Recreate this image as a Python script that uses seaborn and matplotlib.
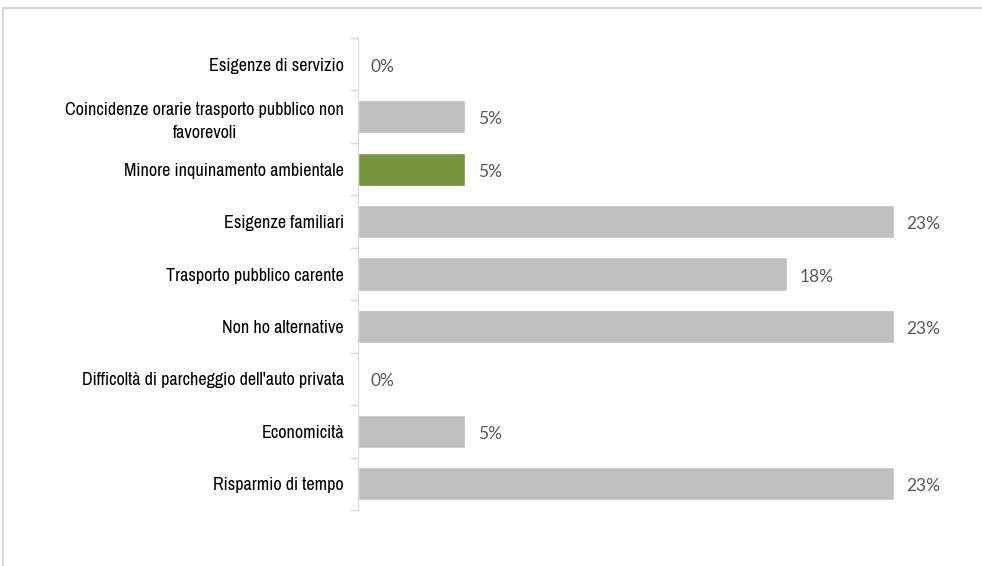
import matplotlib
matplotlib.use("Agg")
import matplotlib.pyplot as plt
import matplotlib.patches as mpatches
from matplotlib import font_manager
import seaborn as sns
import pandas as pd
import numpy as np

categories = [
    "Esigenze di servizio",
    "Coincidenze orarie trasporto pubblico non\nfavorevoli",
    "Minore inquinamento ambientale",
    "Esigenze familiari",
    "Trasporto pubblico carente",
    "Non ho alternative",
    "Difficoltà di parcheggio dell'auto privata",
    "Economicità",
    "Risparmio di tempo",
]
counts = [0, 1, 1, 5, 4, 5, 0, 1, 5]
total = 22
highlight = "Minore inquinamento ambientale"

shares = [100 * c / total for c in counts]
value_labels = [f"{round(s):.0f}%" for s in shares]

df = pd.DataFrame({"categoria": categories, "quota": shares})
palette = {c: ("#77933c" if c == highlight else "#bfbfbf") for c in categories}

sns.set_style("white")

# pick the narrowest sans family that is installed
fonts = font_manager.fontManager.ttflist
label_family, label_stretch = "Liberation Sans", "normal"
narrow = [f.name for f in fonts if "Narrow" in f.name or "Condensed" in f.name]
cond = [f.name for f in fonts if str(f.stretch) in ("condensed", "semi-condensed", "extra-condensed")]
if narrow:
    label_family = narrow[0]
elif cond:
    label_family, label_stretch = cond[0], "condensed"
names = {f.name for f in fonts}
value_font = "Lato" if "Lato" in names else "DejaVu Sans"

fig = plt.figure(figsize=(9.82, 5.66), dpi=100)
ax = fig.add_axes([358 / 982, 1 - 510 / 566, 589.5 / 982, 472 / 566])

# size the labels so the longest one spans about 262 px, as in the reference
renderer = fig.canvas.get_renderer()
probe = fig.text(0, 0, "Difficoltà di parcheggio dell'auto privata", fontsize=12,
                 family=label_family, fontstretch=label_stretch)
w = probe.get_window_extent(renderer).width
probe.remove()
label_size = min(14, 12 * 262 / w)

sns.barplot(data=df, x="quota", y="categoria", hue="categoria", palette=palette,
            order=categories, hue_order=categories, legend=False, width=0.63,
            saturation=1, ax=ax)

ax.set_xlim(0, 25)
ax.set_ylim(len(categories) - 0.5, -0.5)
ax.set_xlabel("")
ax.set_ylabel("")
ax.set_xticks([])

ax.set_yticks(np.arange(len(categories)))
ax.set_yticklabels(categories, fontsize=label_size, family=label_family,
                   fontstretch=label_stretch, color="#000000",
                   multialignment="center", linespacing=1.55)
ax.set_yticks(np.arange(-0.5, len(categories), 1), minor=True)
ax.tick_params(axis="y", which="major", left=False, length=0, pad=10)
ax.tick_params(axis="y", which="minor", left=True, length=6, color="#d9d9d9", width=1)

for s in ["top", "right", "bottom"]:
    ax.spines[s].set_visible(False)
ax.spines["left"].set_color("#d9d9d9")

for i, (v, lab) in enumerate(zip(shares, value_labels)):
    ax.annotate(lab, xy=(v, i), xytext=(9, -1.8), textcoords="offset points",
                ha="left", va="center", fontsize=12.5, family=value_font,
                color="#595959")

fig.patches.append(mpatches.Rectangle((3 / 982, -0.1), 1.2, 1 - 8 / 566 + 0.1,
                                      transform=fig.transFigure, fill=False,
                                      edgecolor="#d9d9d9", linewidth=1.5))

fig.savefig("out.png", dpi=100)
